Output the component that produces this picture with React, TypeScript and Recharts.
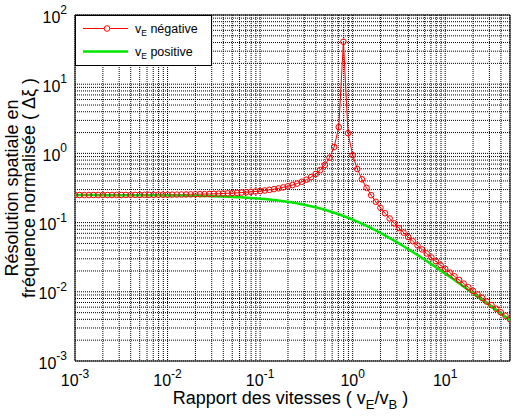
import React from "react";
import {
  LineChart,
  Line,
  XAxis,
  YAxis,
  CartesianGrid,
  ReferenceArea,
  Legend,
  Label,
} from "recharts";

const FONT = "'Liberation Sans', Arial, Helvetica, sans-serif";

// rapport des vitesses vE/vB (20 points par décade)
const xRatio = [
  0.001, 0.001122, 0.001259, 0.001413, 0.001585, 0.001778, 0.001995, 0.002239, 0.002512, 0.002818,
  0.003162, 0.003548, 0.003981, 0.004467, 0.005012, 0.005623, 0.00631, 0.007079, 0.007943, 0.008913,
  0.01, 0.01122, 0.01259, 0.01413, 0.01585, 0.01778, 0.01995, 0.02239, 0.02512, 0.02818,
  0.03162, 0.03548, 0.03981, 0.04467, 0.05012, 0.05623, 0.0631, 0.07079, 0.07943, 0.08913,
  0.1, 0.1122, 0.1259, 0.1413, 0.1585, 0.1778, 0.1995, 0.2239, 0.2512, 0.2818,
  0.3162, 0.3548, 0.3981, 0.4467, 0.5012, 0.5623, 0.631, 0.7079, 0.7943, 0.8913,
  1, 1.122, 1.259, 1.413, 1.585, 1.778, 1.995, 2.239, 2.512, 2.818,
  3.162, 3.548, 3.981, 4.467, 5.012, 5.623, 6.31, 7.079, 7.943, 8.913,
  10, 11.22, 12.59, 14.13, 15.85, 17.78, 19.95, 22.39, 25.12, 28.18,
  31.62, 35.48, 39.81, 44.67, 50.12,
];

// vE négative (rouge, avec marqueurs)
const negValues = [
  0.2503, 0.2504, 0.2504, 0.2504, 0.2505, 0.2506, 0.2506, 0.2507, 0.2508, 0.2509,
  0.251, 0.2511, 0.2513, 0.2514, 0.2516, 0.2518, 0.252, 0.2523, 0.2525, 0.2529,
  0.2532, 0.2536, 0.254, 0.2545, 0.2551, 0.2558, 0.2565, 0.2573, 0.2582, 0.2592,
  0.2604, 0.2617, 0.2633, 0.265, 0.2669, 0.2691, 0.2717, 0.2746, 0.2779, 0.2818,
  0.2862, 0.2913, 0.2974, 0.3044, 0.3127, 0.3226, 0.3344, 0.3488, 0.3665, 0.3885,
  0.4167, 0.4536, 0.5036, 0.5747, 0.6831, 0.866, 1.239, 2.395, 41, 1.961,
  0.9434, 0.5961, 0.4219, 0.3177, 0.2488, 0.2001, 0.164, 0.1365, 0.1148, 0.0975,
  0.0833, 0.0717, 0.0619, 0.0538, 0.0468, 0.0409, 0.0358, 0.0314, 0.0276, 0.0243,
  0.02146, 0.01895, 0.01675, 0.01482, 0.01312, 0.01163, 0.01031, 0.00915, 0.00812, 0.00721,
  0.00641, 0.0057, 0.00506, 0.0045, 0.00401,
];

// vE positive (vert)
const posValues = [
  0.2497, 0.2496, 0.2496, 0.2496, 0.2495, 0.2494, 0.2494, 0.2493, 0.2492, 0.2491,
  0.249, 0.2489, 0.2487, 0.2486, 0.2484, 0.2482, 0.248, 0.2478, 0.2475, 0.2472,
  0.2469, 0.2465, 0.2461, 0.2456, 0.2451, 0.2445, 0.2438, 0.2431, 0.2423, 0.2414,
  0.2404, 0.2393, 0.238, 0.2366, 0.2351, 0.2334, 0.2315, 0.2294, 0.2272, 0.2247,
  0.2219, 0.2189, 0.2156, 0.2121, 0.2082, 0.2041, 0.1996, 0.1948, 0.1897, 0.1843,
  0.1786, 0.1726, 0.1663, 0.1597, 0.153, 0.1461, 0.139, 0.1319, 0.1247, 0.1175,
  0.1104, 0.1033, 0.0964, 0.0897, 0.0832, 0.0769, 0.0709, 0.0652, 0.0598, 0.0548,
  0.05, 0.0456, 0.0414, 0.0376, 0.0341, 0.0308, 0.0278, 0.0251, 0.0226, 0.0204,
  0.01832, 0.01645, 0.01477, 0.01325, 0.01188, 0.01064, 0.00953, 0.00853, 0.00763, 0.00682,
  0.0061, 0.00545, 0.00487, 0.00435, 0.00388,
];

const xTicks = [0.001, 0.01, 0.1, 1, 10];
const yTicks = [0.001, 0.01, 0.1, 1, 10, 100];
const xDomain = [0.001, 50.12];
const yDomain = [0.001, 100];

// lignes de grille (décades + sous-graduations 2..9)
const minorSteps = [1, 2, 3, 4, 5, 6, 7, 8, 9];
const xGrid = xTicks
  .flatMap((d) => minorSteps.map((m) => m * d))
  .filter((v) => v <= xDomain[1]);
const yGrid = [...yTicks.slice(0, -1).flatMap((d) => minorSteps.map((m) => m * d)), 100];

const data = xRatio.map((x, i) => ({
  x,
  neg: negValues[i],
  pos: posValues[i],
}));

const RED = "#ff0000";
const GREEN = "#00e600";

const expOf = (v: number) => Math.round(Math.log10(v));

const XTick = (props: any) => {
  const { x, y, payload } = props;
  return (
    <text x={x} y={y + 25} textAnchor="middle" fontFamily={FONT} fontSize={16} fill="#000">
      10
      <tspan fontSize={12} dy={-8.5}>
        {expOf(payload.value)}
      </tspan>
    </text>
  );
};

const YTick = (props: any) => {
  const { x, y, payload } = props;
  return (
    <text x={x - 8} y={y + 7.5} textAnchor="end" fontFamily={FONT} fontSize={16} fill="#000">
      10
      <tspan fontSize={12} dy={-8.5}>
        {expOf(payload.value)}
      </tspan>
    </text>
  );
};

const XTitle = (props: any) => {
  const vb = props.viewBox || { x: 75, y: 361, width: 435 };
  const cx = vb.x + vb.width / 2 - 2;
  return (
    <text x={cx} y={vb.y + 43} textAnchor="middle" fontFamily={FONT} fontSize={18} fill="#000">
      Rapport des vitesses ( v
      <tspan fontSize={13} dy={5}>E</tspan>
      <tspan dy={-5}>/v</tspan>
      <tspan fontSize={13} dy={5}>B</tspan>
      <tspan dy={-5}> )</tspan>
    </text>
  );
};

const YTitle = (props: any) => {
  const vb = props.viewBox || { y: 15, height: 346 };
  const cy = vb.y + vb.height / 2;
  return (
    <g fontFamily={FONT} fontSize={18} fill="#000">
      <text x={18} y={cy} textAnchor="middle" transform={`rotate(-90, 18, ${cy})`}>
        Résolution spatiale en
      </text>
      <text x={35} y={cy} textAnchor="middle" transform={`rotate(-90, 35, ${cy})`}>
        fréquence normalisée ( Δξ )
      </text>
    </g>
  );
};

const LegendBox = () => (
  <svg width={137} height={51} style={{ display: "block" }}>
    <rect x={0.5} y={0.5} width={136} height={50} fill="#fff" stroke="#000" />
    <line x1={8} y1={13.5} x2={53} y2={13.5} stroke={RED} strokeWidth={1} />
    <circle cx={32} cy={13.5} r={2.8} fill="#fff" stroke={RED} />
    <text x={60} y={17.5} fontFamily={FONT} fontSize={12.5} fill="#000">
      v<tspan fontSize={8.5} dy={3}>E</tspan>
      <tspan dy={-3}> négative</tspan>
    </text>
    <line x1={8} y1={36.5} x2={53} y2={36.5} stroke={GREEN} strokeWidth={2.5} />
    <text x={60} y={40.5} fontFamily={FONT} fontSize={12.5} fill="#000">
      v<tspan fontSize={8.5} dy={3}>E</tspan>
      <tspan dy={-3}> positive</tspan>
    </text>
  </svg>
);

export default function App() {
  return (
    <div style={{ position: "absolute", left: 0, top: 0, background: "#fff" }}>
      <LineChart
        width={515}
        height={416}
        data={data}
        margin={{ top: 15, right: 5, bottom: 5, left: 0 }}
      >
        <CartesianGrid
          stroke="#000"
          strokeDasharray="1 1"
          strokeWidth={1}
          verticalValues={xGrid}
          horizontalValues={yGrid}
        />
        <XAxis
          dataKey="x"
          type="number"
          scale="log"
          domain={xDomain}
          ticks={xTicks}
          allowDataOverflow
          axisLine={false}
          tickLine={false}
          tickSize={0}
          tickMargin={0}
          height={50}
          tick={<XTick />}
          interval={0}
        >
          <Label content={<XTitle />} />
        </XAxis>
        <YAxis
          type="number"
          scale="log"
          domain={yDomain}
          ticks={yTicks}
          allowDataOverflow
          axisLine={false}
          tickLine={false}
          tickSize={0}
          tickMargin={0}
          width={75}
          tick={<YTick />}
          interval={0}
        >
          <Label content={<YTitle />} />
        </YAxis>
        <ReferenceArea
          x1={xDomain[0]}
          x2={xDomain[1]}
          y1={yDomain[0]}
          y2={yDomain[1]}
          fill="none"
          stroke="#000"
          strokeWidth={1}
        />
        <Line
          dataKey="neg"
          stroke={RED}
          strokeWidth={1}
          dot={{ r: 2.8, stroke: RED, strokeWidth: 1, fill: "none" }}
          activeDot={false}
          isAnimationActive={false}
        />
        <Line
          dataKey="pos"
          stroke={GREEN}
          strokeWidth={2.5}
          dot={false}
          activeDot={false}
          isAnimationActive={false}
        />
        <Legend
          layout="horizontal"
          verticalAlign="middle"
          align="center"
          content={<LegendBox />}
          wrapperStyle={{ left: 75, top: 15, width: 137, height: 51 }}
        />
      </LineChart>
    </div>
  );
}
